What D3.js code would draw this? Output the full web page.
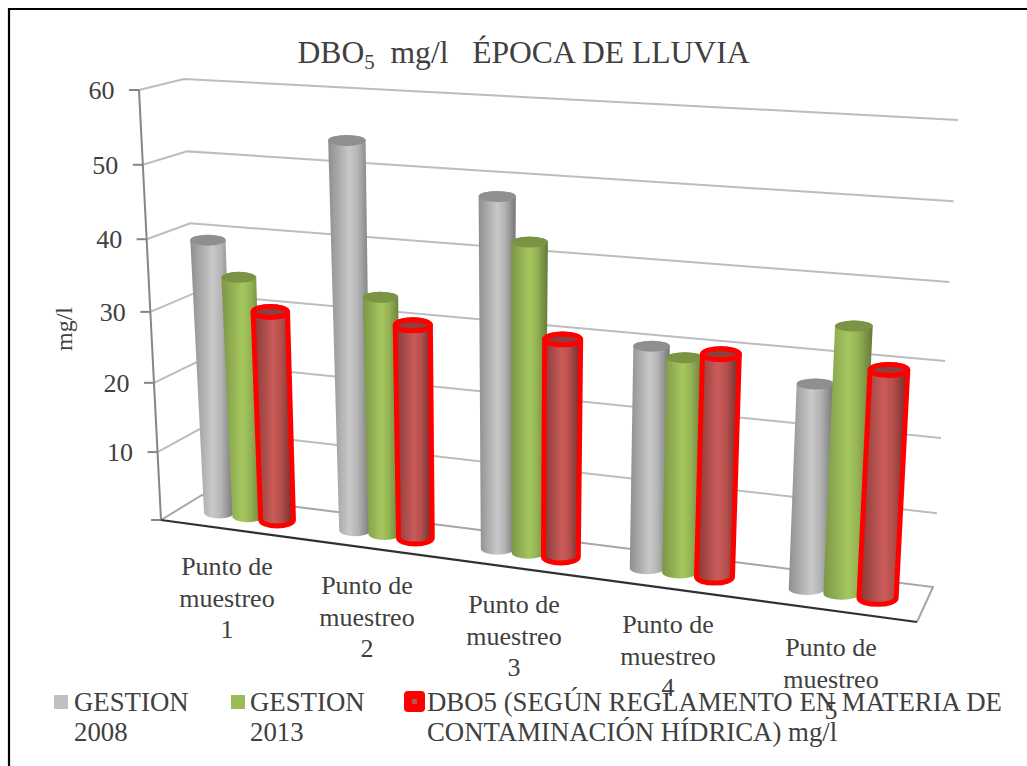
<!DOCTYPE html>
<html><head><meta charset="utf-8">
<script src="https://cdnjs.cloudflare.com/ajax/libs/d3/7.8.5/d3.min.js"></script>
<style>html,body{margin:0;padding:0;background:#fff;overflow:hidden}svg{display:block}text{font-family:"Liberation Serif",serif;fill:#404040}</style>
</head><body><script>
const categories=[["Punto de","muestreo","1"],["Punto de","muestreo","2"],["Punto de","muestreo","3"],["Punto de","muestreo","4"],["Punto de","muestreo","5"]];
const gestion2008=[39.2,54,48,30.2,27.3];
const gestion2013=[34.4,33.4,42.4,29.1,35.1];
const dbo5=[30,30,30,30,30];
const yTicks=[0,10,20,30,40,50,60];
const yTickLabels=["","10","20","30","40","50","60"];
const seriesNames=[["GESTION","2008"],["GESTION","2013"],["DBO5 (SEGÚN REGLAMENTO EN MATERIA DE","CONTAMINACIÓN HÍDRICA) mg/l"]];

const W=1027,H=766;
const svg=d3.select("body").append("svg").attr("width",W).attr("height",H);
const defs=svg.append("defs");

// box corners in screen space (front/back, left/right, floor/top)
const C={fl0:[161,520],fl1:[139,90],bl0:[202,495],bl1:[184,79],fr0:[917,622],fr1:[945,139],br0:[933,587],br1:[958,120]};
// perspective-compressed scales
const tScale=d3.scaleLinear().domain(yTicks).range([0,.158,.319,.484,.653,.826,1]);
const uScale=d3.scaleLinear().domain([0,.5,1.5,2.5,3.5,4.5,5]).range([0,.089,.273,.4665,.67,.888,1]);
const L=(a,b,t)=>a+(b-a)*t, LP=(a,b,t)=>[L(a[0],b[0],t),L(a[1],b[1],t)];
function proj(f,d,v){
  const t=tScale(v);
  const lf=LP(C.fl0,C.fl1,t),lb=LP(C.bl0,C.bl1,t),rf=LP(C.fr0,C.fr1,t),rb=LP(C.br0,C.br1,t);
  return LP(LP(lf,lb,d),LP(rf,rb,d),f);
}
const line=d3.line();

// walls
const gridG=svg.append("g");
yTicks.forEach(v=>{
  const a=proj(0,0,v),b=proj(0,1,v),c=proj(1,1,v);
  gridG.append("path").attr("d",line(v===0?[a,b,c,proj(1,0,0)]:[a,b,c])).attr("fill","none")
    .attr("stroke",v===0?"#a6a6a6":"#bdbdbd").attr("stroke-width",2);
});
// axis
svg.append("path").attr("d",line([proj(0,0,0),proj(0,0,60)])).attr("stroke","#868686").attr("stroke-width",2).attr("fill","none");
yTicks.forEach((v,i)=>{
  const p=proj(0,0,v);
  svg.append("path").attr("d",line([[p[0]-10,p[1]],p])).attr("stroke","#868686").attr("stroke-width",2);
  svg.append("text").attr("x",p[0]-24.5).attr("y",p[1]+9).attr("text-anchor","end").attr("font-size",26).text(yTickLabels[i]);
});
svg.append("path").attr("d",line([proj(0,0,0),proj(1,0,0)])).attr("stroke","#303030").attr("stroke-width",2.2).attr("fill","none");

// bars
const styles=[
 {id:"g0",stops:["#8e8e8e","#c9c9c9","#b4b4b4","#757575"],cap:"#8f8f8f",stroke:null,extra:0},
 {id:"g1",stops:["#7c9646","#a5c75f","#94b353","#66793a"],cap:"#7a9444",stroke:null,extra:0},
 {id:"g2",stops:["#863937","#ca5c5a","#b54f4c","#6a2d2b"],cap:"#8f3f3d",stroke:"#ff0000",extra:2}];
styles.forEach(s=>{
  const g=defs.append("linearGradient").attr("id",s.id);
  [0,.5,.7,1].forEach((o,i)=>g.append("stop").attr("offset",o).attr("stop-color",s.stops[i]));
});
const depth=.5, off=[-.215,0,.215];
const barW=(f,v)=>L(30,37.5,f)+tScale(v)*L(8,1,f);
[gestion2008,gestion2013,dbo5].forEach((vals,s)=>{
  const st=styles[s], g=svg.append("g");
  vals.forEach((v,i)=>{
    const f=uScale(i+.5+off[s]);
    const b=proj(f,depth,0),t=proj(f,depth,v);
    const rb=(barW(f,0)+L(st.extra,0,f))/2,rt=barW(f,v)/2,ryT=5.5,ryB=6;
    const d=`M${t[0]-rt},${t[1]}L${b[0]-rb},${b[1]}A${rb},${ryB} 0 0 0 ${b[0]+rb},${b[1]}L${t[0]+rt},${t[1]}A${rt},${ryT} 0 0 0 ${t[0]-rt},${t[1]}Z`;
    const body=g.append("path").attr("d",d).attr("fill",`url(#${st.id})`);
    const cap=g.append("ellipse").attr("cx",t[0]).attr("cy",t[1]).attr("rx",rt).attr("ry",ryT).attr("fill",st.cap);
    if(st.stroke){body.attr("stroke",st.stroke).attr("stroke-width",5).attr("stroke-linejoin","round");
      cap.attr("stroke",st.stroke).attr("stroke-width",5);}
  });
});

// category labels
const labelPos=[[227,567],[367,586],[514,605],[668,625],[831,648]];
categories.forEach((c,i)=>{
  c.forEach((t,j)=>svg.append("text").attr("x",labelPos[i][0]).attr("y",labelPos[i][1]+j*31.5+8).attr("text-anchor","middle").attr("font-size",26).text(t));
});

// title
const title=svg.append("text").attr("x",523.5).attr("y",63).attr("text-anchor","middle").attr("font-size",31.6);
title.append("tspan").text("DBO");
title.append("tspan").attr("font-size",21).attr("dy",6).text("5");
title.append("tspan").attr("dy",-6).text("\u00a0 mg/l \u00a0\u00a0ÉPOCA DE LLUVIA");
// y title
svg.append("text").attr("transform","translate(72,329) rotate(-90)").attr("text-anchor","middle").attr("font-size",24).text("mg/l");

// legend
const legX=[74,250,427], colors=["#bfbfbf","#9bbb59"];
seriesNames.forEach((n,s)=>{
  n.forEach((t,j)=>svg.append("text").attr("x",legX[s]).attr("y",710.5+j*30.5).attr("font-size",26.8).text(t));
});
svg.append("rect").attr("x",54).attr("y",695).attr("width",14).attr("height",14).attr("fill",colors[0]);
svg.append("rect").attr("x",231).attr("y",695).attr("width",14).attr("height",14).attr("fill",colors[1]);
svg.append("rect").attr("x",404).attr("y",691).attr("width",21).attr("height",21).attr("rx",4).attr("fill","#ff0000");
svg.append("rect").attr("x",412).attr("y",699).attr("width",5).attr("height",5).attr("fill","#c0504d");

// frame
svg.append("path").attr("d",`M9,${H}V9H${W}`).attr("fill","none").attr("stroke","#000").attr("stroke-width",2.2);
</script></body></html>
